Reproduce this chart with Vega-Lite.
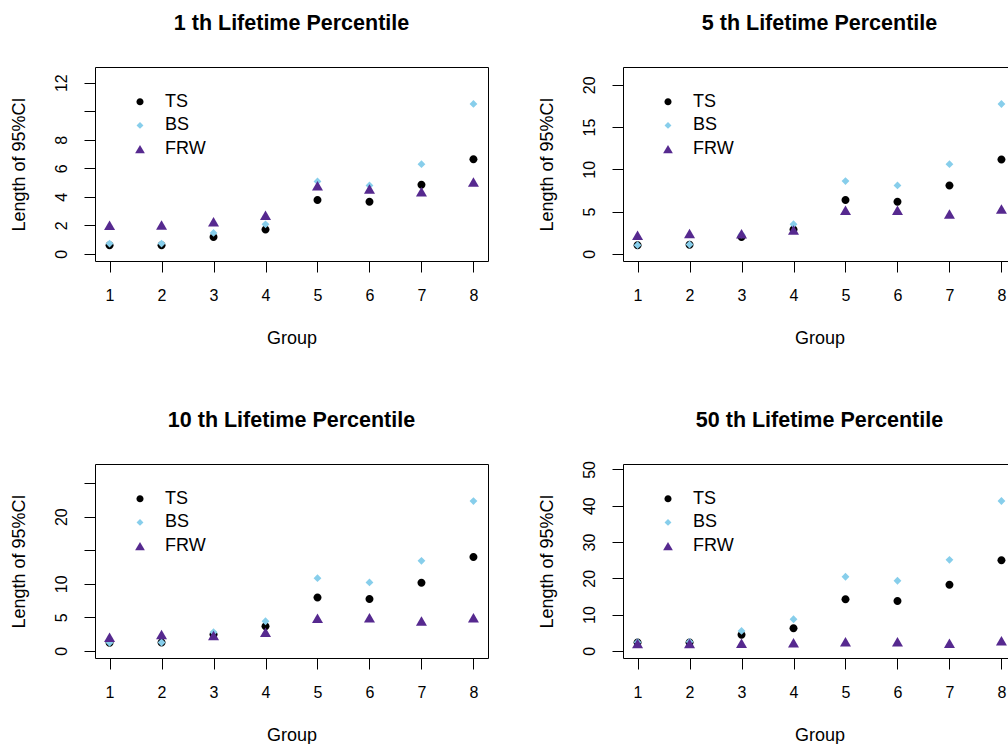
{
  "$schema": "https://vega.github.io/schema/vega-lite/v6.json",
  "autosize": {"type": "none"},
  "padding": {"left": 95, "top": 67, "right": 913, "bottom": 677},
  "background": "white",
  "data": {"values": [
    {"panel": "p1", "group": 1, "series": "TS", "value": 0.61},
    {"panel": "p1", "group": 2, "series": "TS", "value": 0.61},
    {"panel": "p1", "group": 3, "series": "TS", "value": 1.19},
    {"panel": "p1", "group": 4, "series": "TS", "value": 1.70},
    {"panel": "p1", "group": 5, "series": "TS", "value": 3.78},
    {"panel": "p1", "group": 6, "series": "TS", "value": 3.66},
    {"panel": "p1", "group": 7, "series": "TS", "value": 4.85},
    {"panel": "p1", "group": 8, "series": "TS", "value": 6.64},
    {"panel": "p1", "group": 1, "series": "BS", "value": 0.72},
    {"panel": "p1", "group": 2, "series": "BS", "value": 0.72},
    {"panel": "p1", "group": 3, "series": "BS", "value": 1.47},
    {"panel": "p1", "group": 4, "series": "BS", "value": 2.07},
    {"panel": "p1", "group": 5, "series": "BS", "value": 5.08},
    {"panel": "p1", "group": 6, "series": "BS", "value": 4.80},
    {"panel": "p1", "group": 7, "series": "BS", "value": 6.29},
    {"panel": "p1", "group": 8, "series": "BS", "value": 10.51},
    {"panel": "p1", "group": 1, "series": "FRW", "value": 2.0},
    {"panel": "p1", "group": 2, "series": "FRW", "value": 2.03},
    {"panel": "p1", "group": 3, "series": "FRW", "value": 2.26},
    {"panel": "p1", "group": 4, "series": "FRW", "value": 2.70},
    {"panel": "p1", "group": 5, "series": "FRW", "value": 4.78},
    {"panel": "p1", "group": 6, "series": "FRW", "value": 4.55},
    {"panel": "p1", "group": 7, "series": "FRW", "value": 4.36},
    {"panel": "p1", "group": 8, "series": "FRW", "value": 5.03},

    {"panel": "p2", "group": 1, "series": "TS", "value": 1.02},
    {"panel": "p2", "group": 2, "series": "TS", "value": 1.06},
    {"panel": "p2", "group": 3, "series": "TS", "value": 2.0},
    {"panel": "p2", "group": 4, "series": "TS", "value": 2.87},
    {"panel": "p2", "group": 5, "series": "TS", "value": 6.37},
    {"panel": "p2", "group": 6, "series": "TS", "value": 6.17},
    {"panel": "p2", "group": 7, "series": "TS", "value": 8.09},
    {"panel": "p2", "group": 8, "series": "TS", "value": 11.16},
    {"panel": "p2", "group": 1, "series": "BS", "value": 1.02},
    {"panel": "p2", "group": 2, "series": "BS", "value": 1.1},
    {"panel": "p2", "group": 3, "series": "BS", "value": 2.28},
    {"panel": "p2", "group": 4, "series": "BS", "value": 3.5},
    {"panel": "p2", "group": 5, "series": "BS", "value": 8.6},
    {"panel": "p2", "group": 6, "series": "BS", "value": 8.09},
    {"panel": "p2", "group": 7, "series": "BS", "value": 10.61},
    {"panel": "p2", "group": 8, "series": "BS", "value": 17.72},
    {"panel": "p2", "group": 1, "series": "FRW", "value": 2.2},
    {"panel": "p2", "group": 2, "series": "FRW", "value": 2.4},
    {"panel": "p2", "group": 3, "series": "FRW", "value": 2.38},
    {"panel": "p2", "group": 4, "series": "FRW", "value": 2.83},
    {"panel": "p2", "group": 5, "series": "FRW", "value": 5.15},
    {"panel": "p2", "group": 6, "series": "FRW", "value": 5.15},
    {"panel": "p2", "group": 7, "series": "FRW", "value": 4.72},
    {"panel": "p2", "group": 8, "series": "FRW", "value": 5.3},

    {"panel": "p3", "group": 1, "series": "TS", "value": 1.19},
    {"panel": "p3", "group": 2, "series": "TS", "value": 1.24},
    {"panel": "p3", "group": 3, "series": "TS", "value": 2.43},
    {"panel": "p3", "group": 4, "series": "TS", "value": 3.66},
    {"panel": "p3", "group": 5, "series": "TS", "value": 7.97},
    {"panel": "p3", "group": 6, "series": "TS", "value": 7.72},
    {"panel": "p3", "group": 7, "series": "TS", "value": 10.15},
    {"panel": "p3", "group": 8, "series": "TS", "value": 14.0},
    {"panel": "p3", "group": 1, "series": "BS", "value": 1.19},
    {"panel": "p3", "group": 2, "series": "BS", "value": 1.24},
    {"panel": "p3", "group": 3, "series": "BS", "value": 2.77},
    {"panel": "p3", "group": 4, "series": "BS", "value": 4.41},
    {"panel": "p3", "group": 5, "series": "BS", "value": 10.84},
    {"panel": "p3", "group": 6, "series": "BS", "value": 10.2},
    {"panel": "p3", "group": 7, "series": "BS", "value": 13.42},
    {"panel": "p3", "group": 8, "series": "BS", "value": 22.33},
    {"panel": "p3", "group": 1, "series": "FRW", "value": 2.03},
    {"panel": "p3", "group": 2, "series": "FRW", "value": 2.43},
    {"panel": "p3", "group": 3, "series": "FRW", "value": 2.28},
    {"panel": "p3", "group": 4, "series": "FRW", "value": 2.77},
    {"panel": "p3", "group": 5, "series": "FRW", "value": 4.85},
    {"panel": "p3", "group": 6, "series": "FRW", "value": 4.95},
    {"panel": "p3", "group": 7, "series": "FRW", "value": 4.46},
    {"panel": "p3", "group": 8, "series": "FRW", "value": 4.95},

    {"panel": "p4", "group": 1, "series": "TS", "value": 2.29},
    {"panel": "p4", "group": 2, "series": "TS", "value": 2.29},
    {"panel": "p4", "group": 3, "series": "TS", "value": 4.40},
    {"panel": "p4", "group": 4, "series": "TS", "value": 6.23},
    {"panel": "p4", "group": 5, "series": "TS", "value": 14.19},
    {"panel": "p4", "group": 6, "series": "TS", "value": 13.74},
    {"panel": "p4", "group": 7, "series": "TS", "value": 18.22},
    {"panel": "p4", "group": 8, "series": "TS", "value": 25.0},
    {"panel": "p4", "group": 1, "series": "BS", "value": 2.38},
    {"panel": "p4", "group": 2, "series": "BS", "value": 2.47},
    {"panel": "p4", "group": 3, "series": "BS", "value": 5.49},
    {"panel": "p4", "group": 4, "series": "BS", "value": 8.7},
    {"panel": "p4", "group": 5, "series": "BS", "value": 20.42},
    {"panel": "p4", "group": 6, "series": "BS", "value": 19.32},
    {"panel": "p4", "group": 7, "series": "BS", "value": 25.09},
    {"panel": "p4", "group": 8, "series": "BS", "value": 41.3},
    {"panel": "p4", "group": 1, "series": "FRW", "value": 2.0},
    {"panel": "p4", "group": 2, "series": "FRW", "value": 2.0},
    {"panel": "p4", "group": 3, "series": "FRW", "value": 2.1},
    {"panel": "p4", "group": 4, "series": "FRW", "value": 2.2},
    {"panel": "p4", "group": 5, "series": "FRW", "value": 2.5},
    {"panel": "p4", "group": 6, "series": "FRW", "value": 2.5},
    {"panel": "p4", "group": 7, "series": "FRW", "value": 2.1},
    {"panel": "p4", "group": 8, "series": "FRW", "value": 2.8}
  ]},
  "columns": 2,
  "spacing": {"row": 203, "column": 135},
  "bounds": "flush",
  "resolve": {
    "scale": {"y": "independent", "color": "independent", "shape": "independent"},
    "legend": {"color": "independent", "shape": "independent"}
  },
  "concat": [
    {
      "width": 393, "height": 194,
      "title": {"text": "1 th Lifetime Percentile", "offset": 32.5},
      "transform": [{"filter": "datum.panel == 'p1'"}],
      "mark": {"type": "point", "filled": true, "opacity": 1, "strokeWidth": 0, "size": 121},
      "encoding": {
        "x": {"field": "group", "type": "quantitative", "scale": {"domain": [0.72, 8.28], "nice": false, "zero": false}, "axis": {"values": [1, 2, 3, 4, 5, 6, 7, 8], "title": "Group"}},
        "y": {"field": "value", "type": "quantitative", "scale": {"domain": [-0.5, 13.1], "nice": false, "zero": false}, "axis": {"values": [0, 2, 4, 6, 8, 10, 12], "title": "Length of 95%CI", "labelExpr": "datum.value == 10 ? '' : datum.label"}},
        "color": {"field": "series", "type": "nominal", "scale": {"domain": ["TS", "BS", "FRW"], "range": ["#000000", "#87CEEB", "#56298F"]}, "legend": {"title": null, "orient": "none", "legendX": 36, "legendY": 25.7}},
        "shape": {"field": "series", "type": "nominal", "scale": {"domain": ["TS", "BS", "FRW"], "range": ["M0.727,0A0.727,0.727,0,1,1,-0.727,0A0.727,0.727,0,1,1,0.727,0Z", "M0,-0.71L0.71,0L0,0.71L-0.71,0Z", "M0,-0.864L1,0.864L-1,0.864Z"]}}
      }
    },
    {
      "width": 393, "height": 194,
      "title": {"text": "5 th Lifetime Percentile", "offset": 32.5},
      "transform": [{"filter": "datum.panel == 'p2'"}],
      "mark": {"type": "point", "filled": true, "opacity": 1, "strokeWidth": 0, "size": 121},
      "encoding": {
        "x": {"field": "group", "type": "quantitative", "scale": {"domain": [0.72, 8.28], "nice": false, "zero": false}, "axis": {"values": [1, 2, 3, 4, 5, 6, 7, 8], "title": "Group"}},
        "y": {"field": "value", "type": "quantitative", "scale": {"domain": [-0.85, 22.1], "nice": false, "zero": false}, "axis": {"values": [0, 5, 10, 15, 20], "title": "Length of 95%CI"}},
        "color": {"field": "series", "type": "nominal", "scale": {"domain": ["TS", "BS", "FRW"], "range": ["#000000", "#87CEEB", "#56298F"]}, "legend": {"title": null, "orient": "none", "legendX": 36, "legendY": 25.7}},
        "shape": {"field": "series", "type": "nominal", "scale": {"domain": ["TS", "BS", "FRW"], "range": ["M0.727,0A0.727,0.727,0,1,1,-0.727,0A0.727,0.727,0,1,1,0.727,0Z", "M0,-0.71L0.71,0L0,0.71L-0.71,0Z", "M0,-0.864L1,0.864L-1,0.864Z"]}}
      }
    },
    {
      "width": 393, "height": 194,
      "title": {"text": "10 th Lifetime Percentile", "offset": 32.5},
      "transform": [{"filter": "datum.panel == 'p3'"}],
      "mark": {"type": "point", "filled": true, "opacity": 1, "strokeWidth": 0, "size": 121},
      "encoding": {
        "x": {"field": "group", "type": "quantitative", "scale": {"domain": [0.72, 8.28], "nice": false, "zero": false}, "axis": {"values": [1, 2, 3, 4, 5, 6, 7, 8], "title": "Group"}},
        "y": {"field": "value", "type": "quantitative", "scale": {"domain": [-1.07, 27.86], "nice": false, "zero": false}, "axis": {"values": [0, 5, 10, 15, 20, 25], "title": "Length of 95%CI", "labelExpr": "datum.value == 15 || datum.value == 25 ? '' : datum.label"}},
        "color": {"field": "series", "type": "nominal", "scale": {"domain": ["TS", "BS", "FRW"], "range": ["#000000", "#87CEEB", "#56298F"]}, "legend": {"title": null, "orient": "none", "legendX": 36, "legendY": 25.7}},
        "shape": {"field": "series", "type": "nominal", "scale": {"domain": ["TS", "BS", "FRW"], "range": ["M0.727,0A0.727,0.727,0,1,1,-0.727,0A0.727,0.727,0,1,1,0.727,0Z", "M0,-0.71L0.71,0L0,0.71L-0.71,0Z", "M0,-0.864L1,0.864L-1,0.864Z"]}}
      }
    },
    {
      "width": 393, "height": 194,
      "title": {"text": "50 th Lifetime Percentile", "offset": 29},
      "transform": [{"filter": "datum.panel == 'p4'"}],
      "mark": {"type": "point", "filled": true, "opacity": 1, "strokeWidth": 0, "size": 121},
      "encoding": {
        "x": {"field": "group", "type": "quantitative", "scale": {"domain": [0.72, 8.28], "nice": false, "zero": false}, "axis": {"values": [1, 2, 3, 4, 5, 6, 7, 8], "title": "Group"}},
        "y": {"field": "value", "type": "quantitative", "scale": {"domain": [-1.98, 51.5], "nice": false, "zero": false}, "axis": {"values": [0, 10, 20, 30, 40, 50], "title": "Length of 95%CI"}},
        "color": {"field": "series", "type": "nominal", "scale": {"domain": ["TS", "BS", "FRW"], "range": ["#000000", "#87CEEB", "#56298F"]}, "legend": {"title": null, "orient": "none", "legendX": 36, "legendY": 25.7}},
        "shape": {"field": "series", "type": "nominal", "scale": {"domain": ["TS", "BS", "FRW"], "range": ["M0.727,0A0.727,0.727,0,1,1,-0.727,0A0.727,0.727,0,1,1,0.727,0Z", "M0,-0.71L0.71,0L0,0.71L-0.71,0Z", "M0,-0.864L1,0.864L-1,0.864Z"]}}
      }
    }
  ],
  "config": {
    "font": "Liberation Sans",
    "view": {"stroke": "#000000", "strokeWidth": 1},
    "title": {"fontSize": 21.5, "fontWeight": "bold", "color": "#000000", "anchor": "middle", "frame": "group", "baseline": "alphabetic"},
    "axis": {
      "domain": false, "grid": false, "ticks": true, "tickColor": "#000000", "tickSize": 11, "tickWidth": 1,
      "labelFontSize": 16, "labelColor": "#000000", "labelOverlap": false, "labelFlush": false,
      "titleFontSize": 18, "titleFontWeight": "normal", "titleColor": "#000000"
    },
    "axisX": {"labelAngle": 0, "labelAlign": "center", "labelBaseline": "alphabetic", "labelPadding": 28.7, "titleX": 196.5, "titleY": 82, "titleAlign": "center", "titleBaseline": "alphabetic", "titleAngle": 0},
    "axisY": {"labelAngle": 270, "labelAlign": "center", "labelBaseline": "alphabetic", "labelPadding": 17.3, "titleX": -71, "titleY": 97, "titleAngle": 270, "titleAlign": "center", "titleBaseline": "alphabetic"},
    "legend": {"padding": 0, "labelFontSize": 18, "labelColor": "#000000", "labelOffset": 16, "rowPadding": 5.7, "labelBaseline": "middle", "symbolSize": 95, "symbolStrokeWidth": 0}
  }
}
